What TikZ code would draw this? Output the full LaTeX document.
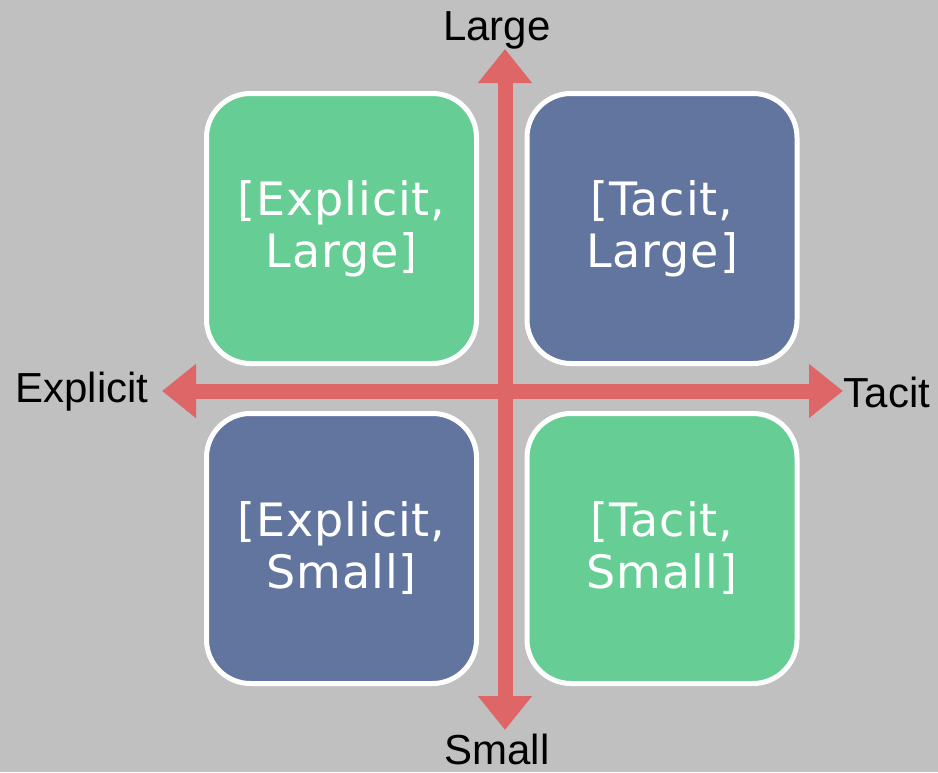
\documentclass[tikz,border=0pt]{standalone}
\usepackage{fontspec}
\setmainfont{Liberation Sans}
\newfontfamily\boxfont[LetterSpace=2]{DejaVu Sans}
\usetikzlibrary{arrows.meta}
\definecolor{bg}{RGB}{192,192,192}
\definecolor{qgreen}{RGB}{102,206,148}
\definecolor{qblue}{RGB}{98,117,158}
\definecolor{axred}{RGB}{222,102,102}
\begin{document}
\begin{tikzpicture}[x=1pt,y=-1pt,
  quad/.style={draw=white, line width=5pt, rounded corners=44pt, minimum width=270pt, minimum height=270pt,
    align=center, text=white, font=\boxfont\fontsize{46}{52}\selectfont, inner sep=0pt},
  axis/.style={draw=axred, line width=15pt, -{Triangle[width=52pt,length=34pt]}},
  axlabel/.style={font=\fontsize{42}{44}\selectfont, text=black, inner sep=0pt}]
\fill[bg] (0,0) rectangle (938,772);
\useasboundingbox (0,0) rectangle (938,772);
\node[quad, fill=qgreen] (tl) at (341.5,228.5) {[Explicit,\\Large]};
\node[quad, fill=qblue] (tr) at (662,228.5) {[Tacit,\\Large]};
\node[quad, fill=qblue] (bl) at (341.5,548.5) {[Explicit,\\Small]};
\node[quad, fill=qgreen] (br) at (662,548.5) {[Tacit,\\Small]};
\coordinate (c) at (505,391);
\coordinate (top) at (505,49);
\coordinate (bot) at (505,730);
\coordinate (lft) at (162,391);
\coordinate (rgt) at (843,391);
\draw[axis] (c) -- (top);
\draw[axis] (c) -- (bot);
\draw[axis] (c) -- (lft);
\draw[axis] (c) -- (rgt);
\node[axlabel] (lL) at (497,30) {Large};
\node[axlabel] (lS) at (497,749) {Small};
\node[axlabel] (lE) at (82,392) {Explicit};
\node[axlabel] (lT) at (887,392) {Tacit};
\end{tikzpicture}
\end{document}
